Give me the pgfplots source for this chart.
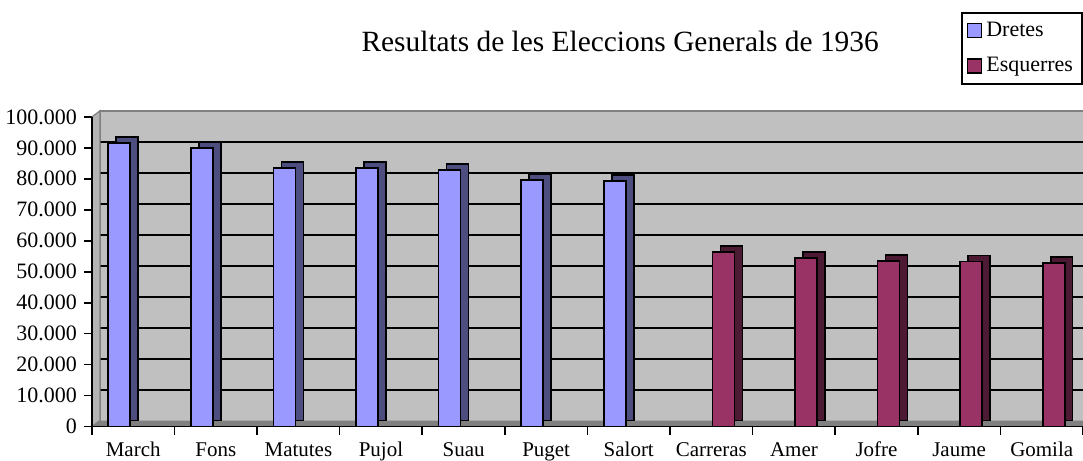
\documentclass[border=0pt]{standalone}
\usepackage{fontspec}
\setmainfont{Liberation Serif}
\usepackage{pgfplots}
\pgfplotsset{compat=1.18}
\usepackage{pgfplotstable}

\definecolor{dretes}{HTML}{9999FF}
\definecolor{dretesside}{HTML}{4D4D80}
\definecolor{esq}{HTML}{993366}
\definecolor{esqside}{HTML}{4D1A33}
\definecolor{wall}{HTML}{C0C0C0}
\definecolor{sidewall}{HTML}{B4B4B4}
\definecolor{floorc}{HTML}{808080}

% vots per candidat
\pgfplotstableread{
x y
0 91600
1 90000
2 83500
3 83500
4 82800
5 79600
6 79300
}\dretes
\pgfplotstableread{
x y
7 56300
8 54400
9 53400
10 53300
11 52800
}\esquerres

\begin{document}
\begin{tikzpicture}
\begin{axis}[
    name=ax, set layers, clip=false,
    width=496pt, height=155pt, scale only axis,
    ybar, bar width=11pt,
    xmin=-0.5, xmax=11.5, ymin=0, ymax=100000,
    axis lines=left, axis line style={-, line width=0.8pt},
    ytick={0,10000,...,100000}, scaled y ticks=false,
    yticklabel style={font=\fontsize{11}{13}\selectfont,
        /pgf/number format/.cd, fixed, precision=0, 1000 sep={.}, assume math mode=true},
    extra y ticks={10000,20000,...,90000},
    extra y tick labels={},
    extra y tick style={grid=major, major tick length=0pt,
        major grid style={black, line width=1pt, yshift=3pt}},
    xtick={0,...,11},
    xticklabels={March,Fons,Matutes,Pujol,Suau,Puget,Salort,Carreras,Amer,Jofre,Jaume,Gomila},
    xticklabel style={font=\fontsize{10.5}{12}\selectfont, text height=1.6ex, text depth=0.3ex},
    minor xtick={-0.5,0.5,...,11.5},
    tick align=outside, major tick length=4pt, minor tick length=4pt,
    major x tick style={draw=none},
    minor x tick style={black, line width=0.8pt},
    major y tick style={black, line width=0.8pt},
    legend style={at={(1,1.339)}, anchor=north east, draw=black, line width=1pt,
        font=\fontsize{11}{13}\selectfont, row sep=5pt, inner sep=2.5pt},
    legend cell align=left,
]
\begin{pgfonlayer}{axis background}
\fill[wall] ([shift={(4pt,3pt)}]rel axis cs:0,0) rectangle ([shift={(1pt,3pt)}]rel axis cs:1,1);
\draw[floorc, line width=1pt] ([shift={(4pt,3pt)}]rel axis cs:0,0)
    -- ([shift={(4pt,3pt)}]rel axis cs:0,1) -- ([shift={(1pt,3pt)}]rel axis cs:1,1);
\end{pgfonlayer}
\begin{pgfonlayer}{pre main}
\fill[sidewall] (rel axis cs:0,0) -- ([shift={(4pt,3pt)}]rel axis cs:0,0)
    -- ([shift={(4pt,3pt)}]rel axis cs:0,1) -- (rel axis cs:0,1) -- cycle;
\fill[floorc] (rel axis cs:0,0) -- ([shift={(4pt,3pt)}]rel axis cs:0,0)
    -- ([shift={(1pt,3pt)}]rel axis cs:1,0) -- ([shift={(1pt,0pt)}]rel axis cs:1,0) -- cycle;
\draw[gray, line width=0.6pt] (rel axis cs:0,0) -- ([shift={(4pt,3pt)}]rel axis cs:0,0)
    -- ([shift={(4pt,3pt)}]rel axis cs:0,1) -- (rel axis cs:0,1);
\draw[black, line width=0.8pt] (rel axis cs:0,1) -- (rel axis cs:0,0) -- (rel axis cs:1,0);
\end{pgfonlayer}

\addplot[fill=dretesside, draw=black, line width=0.8pt, bar shift=-3pt, yshift=3pt, forget plot]
    table[x=x, y=y] {\dretes};
\addplot[fill=dretes, draw=black, line width=0.8pt, bar shift=-7pt,
    legend image code/.code={\draw[fill=dretes, draw=black, line width=0.8pt] (0pt,-3.5pt) rectangle (7pt,3.5pt);}]
    table[x=x, y=y] {\dretes};
\addplot[fill=esqside, draw=black, line width=0.8pt, bar shift=10pt, yshift=3pt, forget plot]
    table[x=x, y=y] {\esquerres};
\addplot[fill=esq, draw=black, line width=0.8pt, bar shift=6pt,
    legend image code/.code={\draw[fill=esq, draw=black, line width=0.8pt] (0pt,-3.5pt) rectangle (7pt,3.5pt);}]
    table[x=x, y=y] {\esquerres};
\legend{Dretes, Esquerres}

\node[font=\fontsize{14.7}{17}\selectfont] at (rel axis cs:0.533,1.242)
    {Resultats de les Eleccions Generals de 1936};
\end{axis}
\pgfresetboundingbox
\path ([shift={(-46pt,-17pt)}]ax.south west) rectangle ([shift={(0pt,58.5pt)}]ax.north east);
\end{tikzpicture}
\end{document}
